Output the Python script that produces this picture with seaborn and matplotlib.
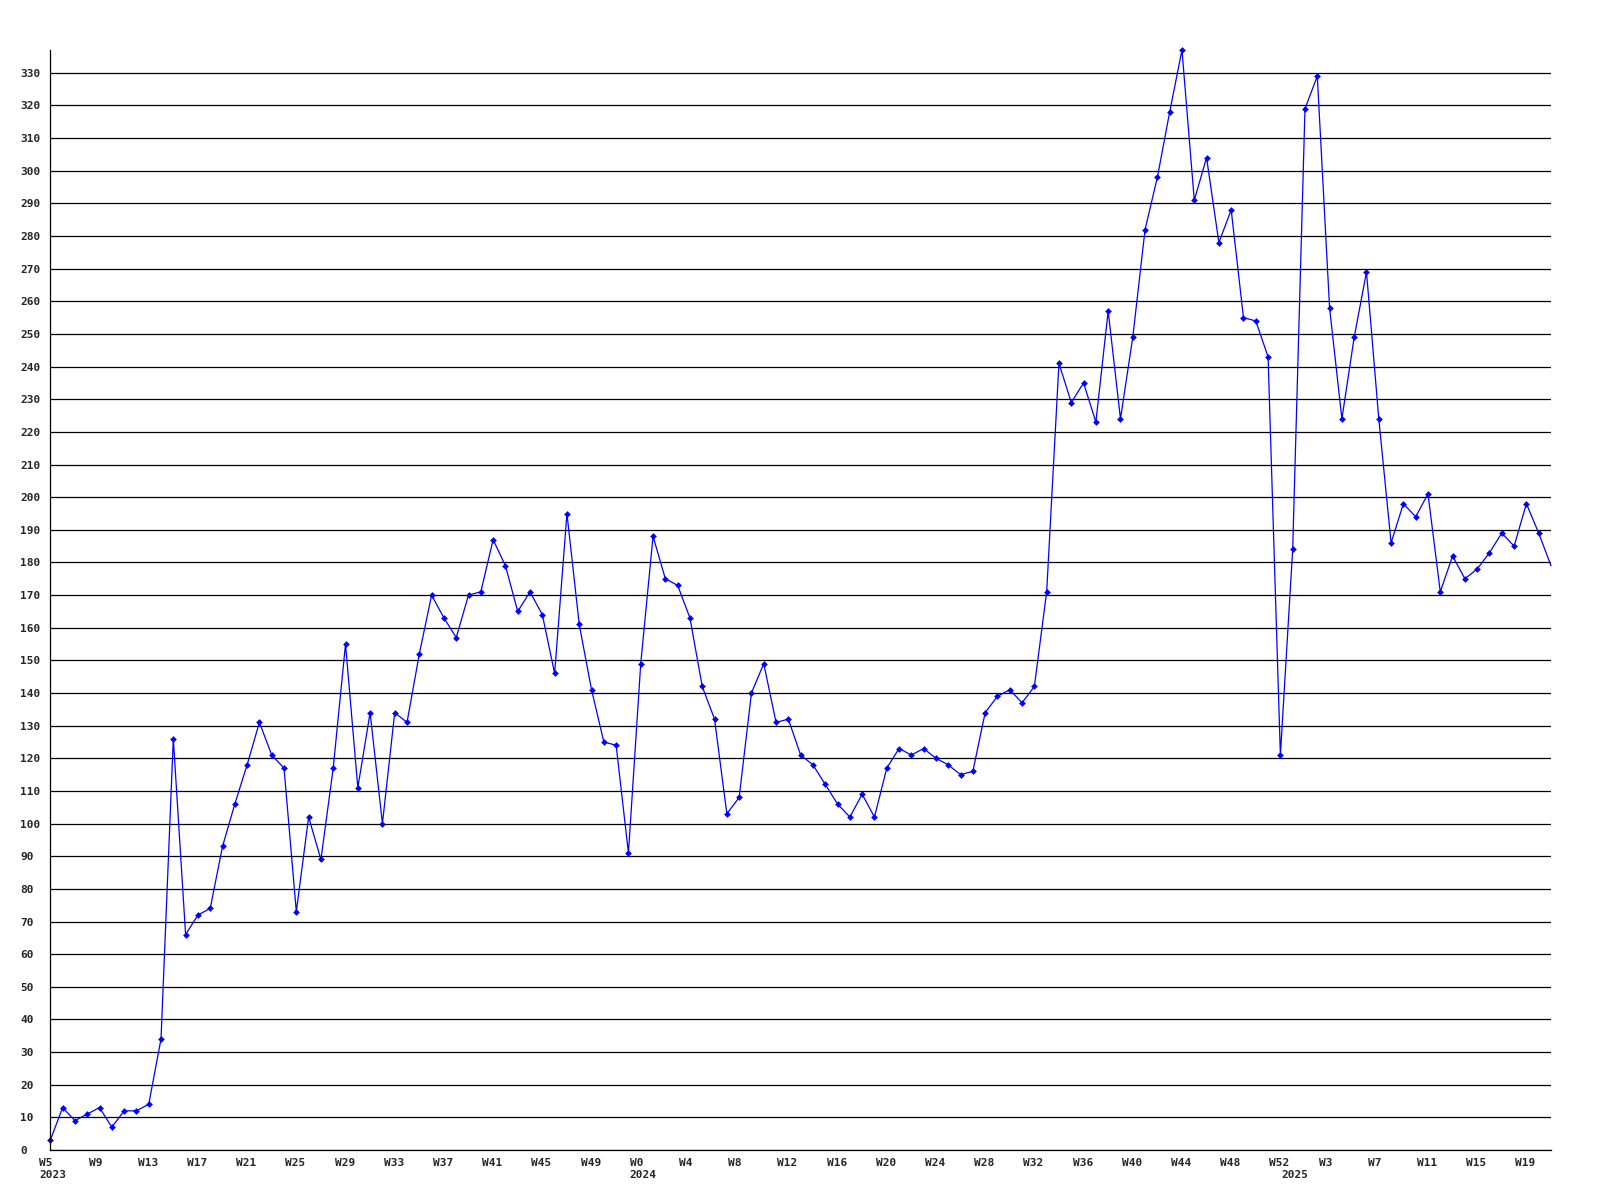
import matplotlib

matplotlib.use("Agg")
from matplotlib import pyplot as plt
from matplotlib import transforms as mtransforms
import pandas as pd
import seaborn as sns

# weekly counts, one list per year
weeks_2023 = list(range(5, 53))
counts_2023 = [
    3, 13, 9, 11, 13, 7, 12, 12, 14, 34,
    126, 66, 72, 74, 93, 106, 118, 131, 121, 117,
    73, 102, 89, 117, 155, 111, 134, 100, 134, 131,
    152, 170, 163, 157, 170, 171, 187, 179, 165, 171,
    164, 146, 195, 161, 141, 125, 124, 91,
]
weeks_2024 = list(range(0, 53))
counts_2024 = [
    149, 188, 175, 173, 163, 142, 132, 103, 108, 140,
    149, 131, 132, 121, 118, 112, 106, 102, 109, 102,
    117, 123, 121, 123, 120, 118, 115, 116, 134, 139,
    141, 137, 142, 171, 241, 229, 235, 223, 257, 224,
    249, 282, 298, 318, 337, 291, 304, 278, 288, 255,
    254, 243, 121,
]
weeks_2025 = list(range(0, 22))
counts_2025 = [
    184, 319, 329, 258, 224, 249, 269, 224, 186, 198,
    194, 201, 171, 182, 175, 178, 183, 189, 185, 198,
    189, 179,
]

years = [2023, 2024, 2025]
week_lists = [weeks_2023, weeks_2024, weeks_2025]
count_lists = [counts_2023, counts_2024, counts_2025]

frames = []
for year, wk, cnt in zip(years, week_lists, count_lists):
    frames.append(pd.DataFrame({"year": year, "week": wk, "count": cnt}))
df = pd.concat(frames, ignore_index=True)
df["idx"] = range(len(df))

# tick every 4 weeks
tick_idx = list(range(0, len(df), 4))
tick_labels = [f"W{w}" for w in df["week"].iloc[tick_idx]]
# year label sits under the first week of each year
year_start_idx = df.groupby("year")["idx"].min()

sns.set_style("white")
plt.rcParams["font.family"] = ["DejaVu Sans Mono"]
plt.rcParams["font.weight"] = "bold"

fig = plt.figure(figsize=(16, 12), dpi=100)
ax = fig.add_axes([50.3 / 1600, 50 / 1200, (1551 - 50.3) / 1600, 1100 / 1200])

sns.lineplot(
    data=df,
    x="idx",
    y="count",
    ax=ax,
    color="#0000ff",
    linewidth=0.9,
    marker="D",
    markersize=3.0,
    markeredgewidth=0.4,
    markeredgecolor="#0000ff",
    markevery=list(range(len(df) - 1)),
    clip_on=False,
)

ax.set_xlim(0, len(df) - 1)
ax.set_ylim(0, df["count"].max())
ax.set_yticks(range(0, 340, 10))
ax.set_xticks(tick_idx)
ax.set_xticklabels(tick_labels, fontsize=8, fontweight="bold")
ax.set_xlabel("")
ax.set_ylabel("")

ax.grid(axis="y", color="black", linewidth=0.9)
ax.grid(axis="x", visible=False)
ax.set_axisbelow(True)

for side in ["top", "right"]:
    ax.spines[side].set_visible(False)
for side in ["left", "bottom"]:
    ax.spines[side].set_color("black")
    ax.spines[side].set_linewidth(0.9)

ax.tick_params(axis="y", length=0, pad=21.8, labelsize=8)
ax.tick_params(axis="x", length=0, pad=5.5, labelsize=8)
for lab in ax.get_yticklabels():
    lab.set_horizontalalignment("left")
    lab.set_fontweight("bold")

shift = mtransforms.ScaledTranslation(-11 / 100, 0, fig.dpi_scale_trans)
for lab in ax.get_xticklabels():
    lab.set_horizontalalignment("left")
    lab.set_transform(lab.get_transform() + shift)

year_shift = mtransforms.ScaledTranslation(-11 / 100, -20.5 / 100, fig.dpi_scale_trans)
for year, start in year_start_idx.items():
    ax.text(
        start,
        0,
        str(year),
        transform=ax.get_xaxis_transform() + year_shift,
        ha="left",
        va="top",
        fontsize=8,
        fontweight="bold",
    )

fig.savefig("out.png", dpi=100, facecolor="white")
